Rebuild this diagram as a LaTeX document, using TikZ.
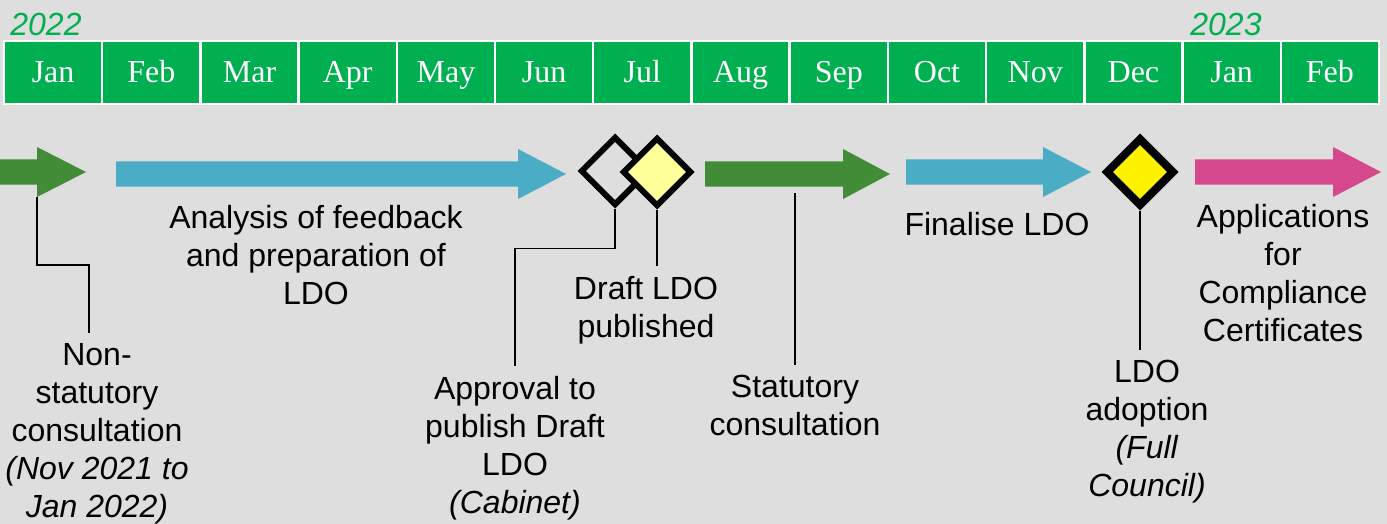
\documentclass[tikz,border=0pt]{standalone}
\usepackage{fontspec}
\setmainfont{Liberation Sans}
\newfontfamily\monthfont{Liberation Serif}
\usetikzlibrary{shapes.geometric, calc}

\definecolor{bggrey}{RGB}{222,222,222}
\definecolor{monthgreen}{RGB}{0,176,80}
\definecolor{arrgreen}{RGB}{67,140,55}
\definecolor{arrblue}{RGB}{75,172,198}
\definecolor{arrpink}{RGB}{214,72,140}
\definecolor{paleyellow}{RGB}{255,255,153}

\tikzset{
	month/.style={draw=white, line width=1.2pt, fill=monthgreen, minimum width=49.1pt,
		minimum height=31.5pt, inner sep=0pt, text height=12pt, text depth=1.5pt,
		text=white, font=\monthfont\fontsize{16}{19}\selectfont},
	year/.style={text=monthgreen, inner sep=0pt, anchor=base west, font=\itshape\fontsize{16}{19}\selectfont},
	milestone/.style={diamond, aspect=1, draw=black, minimum width=34.5pt, minimum height=34.5pt, inner sep=0pt},
	tltext/.style={align=center, anchor=north, inner sep=5pt, font=\fontsize{16}{19}\selectfont},
	link/.style={draw=black, line width=0.85pt},
}

\begin{document}
\begin{tikzpicture}[x=0.5pt, y=-0.5pt]
		\def\sw{12.5};
		\def\hw{25};

		\fill[bggrey] (0,0) rectangle (1387,524);
		\useasboundingbox (0,0) rectangle (1387,524);

		% months
		\foreach \m [count=\i from 0] in {Jan,Feb,Mar,Apr,May,Jun,Jul,Aug,Sep,Oct,Nov,Dec,Jan,Feb}
			\node[month] (m\i) at ({4+98.21*(\i+0.5)},72.5) {\m};
		\node[year] (y22) at (10,36) {2022};
		\node[year] (y23) at (1190,36) {2023};

		% stage arrows: tail / head start / tip / centre
		\foreach \xa/\xb/\xc/\yc/\col in {0/37/86/172/arrgreen, 116/518/566/174/arrblue,
				705/843/890/174/arrgreen, 906/1043/1091/172/arrblue, 1195/1333/1381/172/arrpink}
			\fill[fill=\col] (\xa,{\yc-\sw}) -- (\xb,{\yc-\sw}) -- (\xb,{\yc-\hw}) -- (\xc,\yc)
				-- (\xb,{\yc+\hw}) -- (\xb,{\yc+\sw}) -- (\xa,{\yc+\sw}) -- cycle;
		\coordinate (nsarr) at (37,197);
		\coordinate (starr) at (795,193);

		% milestones
		\node[milestone, line width=3pt] (apd) at (615,171) {};
		\node[milestone, line width=3pt, fill=paleyellow] (dpd) at (657,172) {};
		\node[milestone, line width=4pt, fill=yellow] (add) at (1140,172) {};

		\node[tltext] (nsc) at (97,333) {Non-\\statutory\\consultation\\\textit{(Nov 2021 to}\\\textit{Jan 2022)}};
		\node[tltext] (ana) at (316,195) {Analysis of feedback\\and preparation of\\LDO};
		\node[tltext] (app) at (515,366) {Approval to\\publish Draft\\LDO\\\textit{(Cabinet)}};
		\node[tltext] (dlp) at (646,266) {Draft LDO\\published};
		\node[tltext] (stc) at (795,365) {Statutory\\consultation};
		\node[tltext] (fin) at (997,202) {Finalise LDO};
		\node[tltext] (ado) at (1147,350) {LDO\\adoption\\\textit{(Full}\\\textit{Council)}};
		\node[tltext] (apc) at (1283,194) {Applications\\for\\Compliance\\Certificates};

		\draw[link] (nsarr) -- ++(0,68) -| ([xshift=-4pt]nsc.north);
		\draw[link] (apd.south) -- ++(0,40) -| (app.north);
		\draw[link] (dpd.south) -- (dpd.south |- dlp.north);
		\draw[link] (starr) -- (stc.north);
		\draw[link] (add.south) -- (add.south |- ado.north);
	\end{tikzpicture}
\end{document}
